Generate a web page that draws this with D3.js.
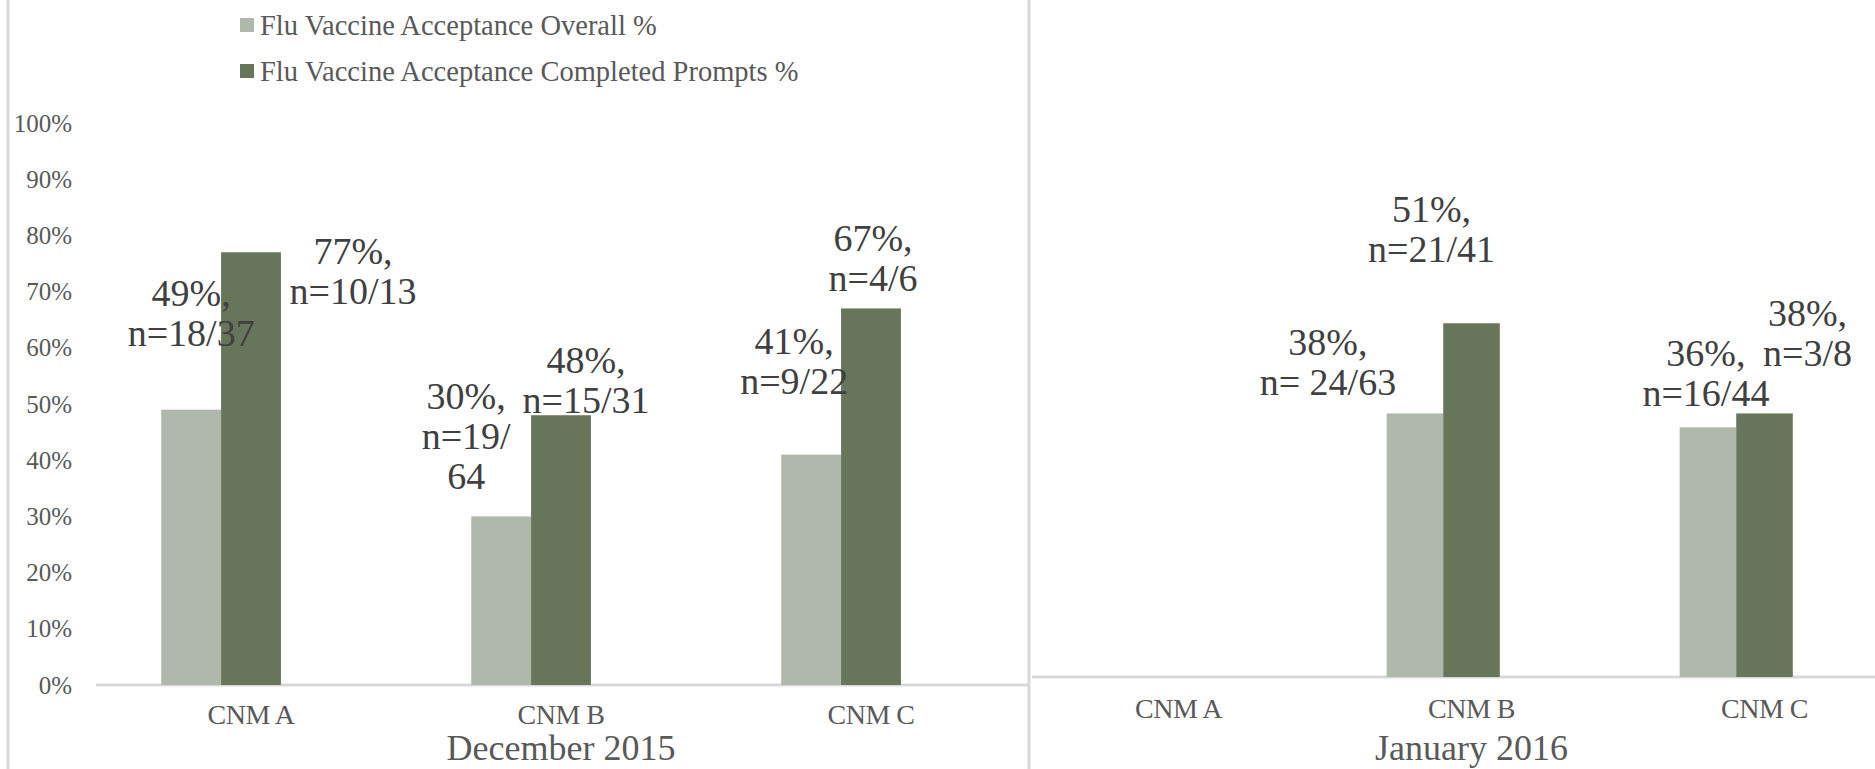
<!DOCTYPE html>
<html>
<head>
<meta charset="utf-8">
<script src="https://cdn.jsdelivr.net/npm/d3@7"></script>
<style>
  html, body { margin: 0; padding: 0; background: #fff; overflow: hidden; }
  svg text, svg tspan { font-family: "Liberation Serif", "Times New Roman", serif !important; }
</style>
</head>
<body>
<svg id="chart" width="1875" height="769"></svg>
<script>
// ---------------- data ----------------
const categories = ["CNM A", "CNM B", "CNM C"];
const seriesNames = ["Flu Vaccine Acceptance Overall %", "Flu Vaccine Acceptance Completed Prompts %"];
const yTicks = [0, 0.1, 0.2, 0.3, 0.4, 0.5, 0.6, 0.7, 0.8, 0.9, 1.0];

const decTitle = "December 2015";
const decOverall = [0.49, 0.30, 0.41];
const decCompleted = [0.77, 0.48, 0.67];
const decOverallLabels = [["49%,", "n=18/37"], ["30%,", "n=19/", "64"], ["41%,", "n=9/22"]];
const decCompletedLabels = [["77%,", "n=10/13"], ["48%,", "n=15/31"], ["67%,", "n=4/6"]];

const janTitle = "January 2016";
const janOverall = [null, 0.38, 0.36];
const janCompleted = [null, 0.51, 0.38];
const janOverallLabels = [null, ["38%,", "n= 24/63"], ["36%,", "n=16/44"]];
const janCompletedLabels = [null, ["51%,", "n=21/41"], ["38%,", "n=3/8"]];

// manual label nudges (dx from bar centre, dy from bar top to first baseline)
const decOverallNudge = [[0, -104], [-35, -107], [-17, -101]];
const decCompletedNudge = [[102, 12], [25, -42], [2, -57]];
const janOverallNudge = [null, [-87, -58], [-2, -61]];
const janCompletedNudge = [null, [-40, -101], [43, -87]];

// ---------------- style ----------------
const FONT = "'Liberation Serif', 'Times New Roman', serif";
const colors = ["#b0b7ab", "#67755a"];
const axisColor = "#d9d9d9";
const tickColor = "#595959";
const labelColor = "#404040";

const svg = d3.select("#chart");
svg.append("rect").attr("width", 1875).attr("height", 769).attr("fill", "#fff");

// slots: third slot is an empty (hidden) series position as in the original
const slots = ["overall", "completed", "hidden"];

const barLayer = svg.append("g");
const labelLayer = svg.append("g");

function drawPanel(opts) {
  const x0 = d3.scaleBand().domain(categories).range(opts.xRange).paddingInner(0).paddingOuter(0);
  const x1 = d3.scaleBand().domain(slots).range([0, x0.bandwidth()]).paddingOuter(1.09).paddingInner(0);
  const y = d3.scaleLinear().domain([0, 1]).range(opts.yRange);

  // baseline
  barLayer.append("line")
    .attr("x1", opts.xRange[0]).attr("x2", opts.baselineEnd)
    .attr("y1", y(0)).attr("y2", y(0))
    .attr("stroke", axisColor).attr("stroke-width", 3);

  const series = [
    {key: "overall", values: opts.overall, labels: opts.overallLabels, nudge: opts.overallNudge, color: colors[0]},
    {key: "completed", values: opts.completed, labels: opts.completedLabels, nudge: opts.completedNudge, color: colors[1]}
  ];

  series.forEach(s => {
    const data = categories.map((c, i) => ({c, v: s.values[i], lab: s.labels[i], nudge: s.nudge[i]}))
      .filter(d => d.v != null);
    barLayer.selectAll(null).data(data).enter().append("rect")
      .attr("x", d => x0(d.c) + x1(s.key))
      .attr("width", x1.bandwidth())
      .attr("y", d => y(d.v))
      .attr("height", d => y(0) - y(d.v))
      .attr("fill", s.color);

    data.forEach(d => {
      const cx = x0(d.c) + x1(s.key) + x1.bandwidth() / 2 + d.nudge[0];
      const by = y(d.v) + d.nudge[1];
      const t = labelLayer.append("text")
        .attr("text-anchor", "middle")
        .style("font-family", FONT)
        .attr("font-size", 38)
        .attr("fill", labelColor);
      d.lab.forEach((line, k) => {
        t.append("tspan").attr("x", cx).attr("y", by + k * 40).text(line);
      });
    });
  });

  // category labels
  labelLayer.selectAll(null).data(categories).enter().append("text")
    .attr("x", d => x0(d) + x0.bandwidth() / 2)
    .attr("y", opts.catY)
    .attr("text-anchor", "middle")
    .style("font-family", FONT)
    .attr("font-size", 28)
    .attr("letter-spacing", -0.5)
    .attr("fill", tickColor)
    .text(d => d);

  // panel title
  labelLayer.append("text")
    .attr("x", (opts.xRange[0] + opts.xRange[1]) / 2)
    .attr("y", 760)
    .attr("text-anchor", "middle")
    .style("font-family", FONT)
    .attr("font-size", 36)
    .attr("fill", tickColor)
    .text(opts.title);

  return y;
}

// left panel (December 2015)
const yLeft = drawPanel({
  xRange: [96, 1026], baselineEnd: 1028, yRange: [685, 123],
  overall: decOverall, completed: decCompleted,
  overallLabels: decOverallLabels, completedLabels: decCompletedLabels,
  overallNudge: decOverallNudge, completedNudge: decCompletedNudge,
  catY: 724, title: decTitle
});

// right panel (January 2016)
drawPanel({
  xRange: [1032, 1911], baselineEnd: 1875, yRange: [677, -16.6],
  overall: janOverall, completed: janCompleted,
  overallLabels: janOverallLabels, completedLabels: janCompletedLabels,
  overallNudge: janOverallNudge, completedNudge: janCompletedNudge,
  catY: 718, title: janTitle
});

// y axis (left panel only)
const yAxis = d3.axisLeft(yLeft).tickValues(yTicks).tickFormat(d3.format(".0%")).tickSize(0).tickPadding(0);
const ag = svg.append("g").attr("transform", "translate(72,0)").attr("font-family", null).call(yAxis);
ag.attr("font-family", null);
ag.select(".domain").remove();
ag.selectAll("text")
  .style("font-family", FONT)
  .attr("font-size", 25)
  .attr("fill", tickColor);

// chart borders
svg.append("line").attr("x1", 8).attr("x2", 8).attr("y1", 0).attr("y2", 769)
  .attr("stroke", axisColor).attr("stroke-width", 3);
svg.append("line").attr("x1", 1029).attr("x2", 1029).attr("y1", 0).attr("y2", 769)
  .attr("stroke", axisColor).attr("stroke-width", 3);

// legend
const legend = svg.append("g").attr("transform", "translate(240,0)");
const legendRows = [25, 71];
seriesNames.forEach((name, i) => {
  legend.append("rect").attr("x", 0).attr("y", legendRows[i] - 7).attr("width", 14).attr("height", 14)
    .attr("fill", colors[i]);
  legend.append("text").attr("x", 20).attr("y", legendRows[i]).attr("dy", "0.35em")
    .style("font-family", FONT)
    .attr("font-size", 28.5).attr("fill", tickColor).text(name);
});
</script>
</body>
</html>
